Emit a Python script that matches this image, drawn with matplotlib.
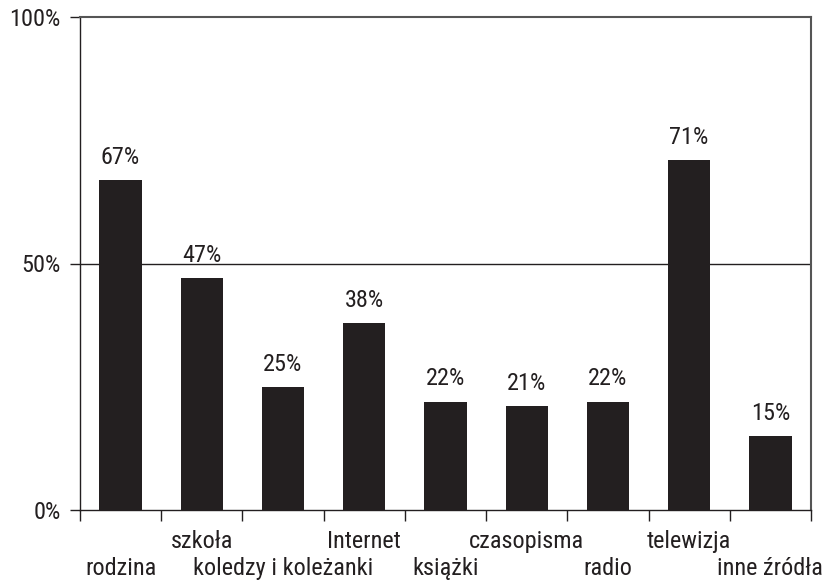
import matplotlib
matplotlib.use("Agg")
import matplotlib.pyplot as plt
from matplotlib import font_manager

categories = ["rodzina", "szkoła", "koledzy i koleżanki", "Internet", "książki",
              "czasopisma", "radio", "telewizja", "inne źródła"]
values = [67, 47, 25, 38, 22, 21, 22, 71, 15]
value_labels = ["67%", "47%", "25%", "38%", "22%", "21%", "22%", "71%", "15%"]
ytick_values = [0, 50, 100]
ytick_labels = ["0%", "50%", "100%"]

# prefer a condensed grotesque face, fall back to regular sans
names = {f.name for f in font_manager.fontManager.ttflist}
preferred = ["Roboto Condensed", "Liberation Sans Narrow", "Archivo Narrow", "Barlow Semi Condensed"]
condensed = [n for n in preferred if n in names][:1]
family = condensed + ["Liberation Sans", "DejaVu Sans"]
plt.rcParams["font.family"] = family

FS = 17.5 if condensed else 15
fig = plt.figure(figsize=(8.23, 5.84), dpi=100)
ax = fig.add_axes([80 / 823, 74 / 584, 731 / 823, 493 / 584])

bar_color = "#231f20"
x = list(range(len(categories)))
ax.bar(x, values, width=0.52, color=bar_color, zorder=3)

ax.set_xlim(-0.5, len(categories) - 0.5)
ax.set_ylim(0, 100)

# 50% reference line
ax.axhline(50, color="#231f20", lw=1.0, zorder=2)

for xi, v, lab in zip(x, values, value_labels):
    ax.annotate(lab, (xi, v), xytext=(0, 8), textcoords="offset points",
                ha="center", va="bottom", fontsize=FS, color="#231f20")

ax.set_yticks(ytick_values)
ax.set_yticklabels(ytick_labels, fontsize=FS, color="#231f20")
ax.tick_params(axis="y", length=7, width=1, color="#231f20", pad=7)

# ticks at category boundaries
ax.set_xticks([i - 0.5 for i in range(len(categories) + 1)])
ax.set_xticklabels([])
ax.tick_params(axis="x", length=8, width=1, color="#231f20", direction="out")

# staggered category labels
for i, c in enumerate(categories):
    yoff = -42 if i % 2 == 0 else -23
    ax.annotate(c, (i, 0), xytext=(0, yoff), textcoords="offset points",
                ha="center", va="center",
                fontsize=FS, color="#231f20", annotation_clip=False)

ax.spines["left"].set_color("#231f20")
ax.spines["left"].set_linewidth(1.0)
ax.spines["bottom"].set_color("#231f20")
ax.spines["bottom"].set_linewidth(1.0)
for s in ("top", "right"):
    ax.spines[s].set_color("#555555")
    ax.spines[s].set_linewidth(1.5)

fig.savefig("out.png", dpi=100)
